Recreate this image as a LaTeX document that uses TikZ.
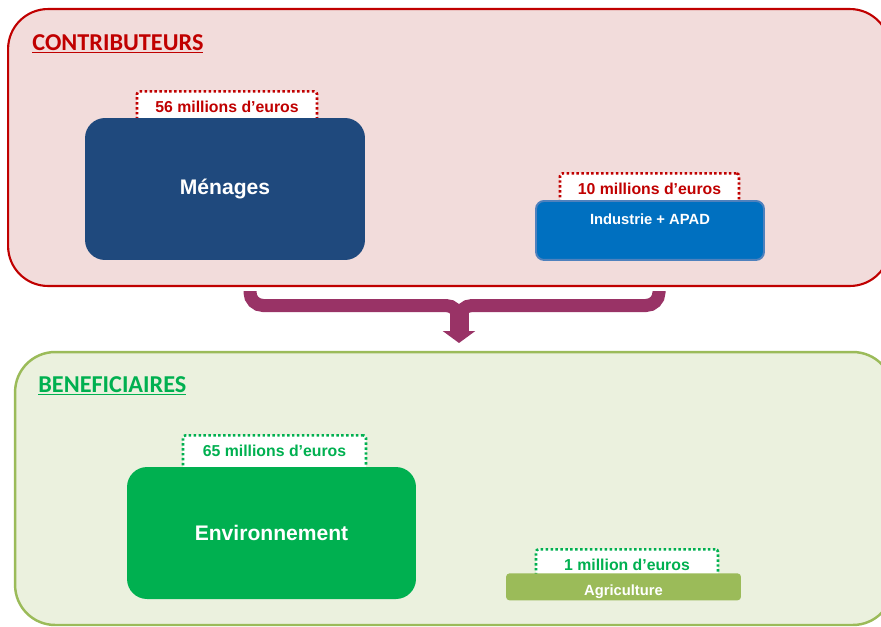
\documentclass[tikz,border=0pt]{standalone}
\usepackage{fontspec}
\setmainfont{Liberation Sans}
\newfontfamily\HeadFont{Carlito}
\usetikzlibrary{arrows.meta}
\definecolor{ContribRed}{HTML}{C00000}
\definecolor{ContribFill}{HTML}{F2DCDB}
\definecolor{MenagesBlue}{HTML}{1F497D}
\definecolor{IndusBlue}{HTML}{0070C0}
\definecolor{IndusEdge}{HTML}{4F81BD}
\definecolor{BenefEdge}{HTML}{9BBB59}
\definecolor{BenefFill}{HTML}{EBF1DE}
\definecolor{EnvGreen}{HTML}{00B050}
\definecolor{AgriGreen}{HTML}{9BBB59}
\definecolor{FlowPurple}{HTML}{993366}
\newcommand{\FluxHead}{\fontsize{13.8}{15}\selectfont\HeadFont\bfseries}
\newcommand{\FluxBox}{\fontsize{12}{14}\selectfont\bfseries}
\newcommand{\FluxTag}{\fontsize{9}{10.5}\selectfont\bfseries}
\newcommand{\FluxSmall}{\fontsize{8.4}{10}\selectfont\bfseries}
\newcommand{\FluxUnder}[1]{\underline{#1}}
\tikzset{
  groupbox/.style={
    rectangle,
    rounded corners=0.8cm,
    line width=1.2pt
  },
  headlabel/.style={
    anchor=west,
    inner sep=0pt,
    font=\FluxHead
  },
  amountbox/.style={
    rectangle,
    anchor=north,
    rounded corners=1.5pt,
    fill=white,
    line width=1.5pt,
    dash pattern=on 1.4pt off 1.4pt,
    inner sep=0pt,
    text height=0.43cm,
    text depth=0.35cm,
    font=\FluxTag
  },
  bigbox/.style={
    rectangle,
    rounded corners=0.4cm,
    text=white,
    font=\FluxBox
  },
  smallbox/.style={
    rectangle,
    text=white,
    inner sep=0pt,
    font=\FluxSmall
  },
  bracearm/.style={
    draw=FlowPurple,
    line width=0.26cm,
    rounded corners=0.26cm
  },
  bracestem/.style={
    draw=FlowPurple,
    line width=0.38cm,
    -{Triangle[width=0.64cm,length=0.24cm]}
  }
}

\begin{document}
\begin{tikzpicture}[x=0.02cm,y=-0.02cm]
\useasboundingbox (0,0) rectangle (881,626);

% contributeurs
\node[groupbox, draw=ContribRed, fill=ContribFill, minimum width=17.64cm, minimum height=5.54cm] (contrib) at (449,147.5) {};
\node[headlabel, text=ContribRed] (contribhead) at (32,44) {\FluxUnder{CONTRIBUTEURS}};

\node[amountbox, draw=ContribRed, text=ContribRed, minimum width=3.60cm] (tagmenages) at (227,90) {56 millions d’euros};
\node[bigbox, fill=MenagesBlue, minimum width=5.60cm, minimum height=2.84cm] (menages) at (225,189) {Ménages};

\node[amountbox, draw=ContribRed, text=ContribRed, minimum width=3.58cm] (tagindus) at (649.5,172) {10 millions d’euros};
\node[smallbox, fill=IndusBlue, draw=IndusEdge, line width=1.1pt, rounded corners=0.16cm,
  minimum width=4.56cm, text height=0.47cm, text depth=0.71cm] (indus) at (650,200) [anchor=north] {Industrie + APAD};

% beneficiaires
\node[groupbox, draw=BenefEdge, fill=BenefFill, line width=1.4pt, minimum width=17.56cm, minimum height=5.46cm] (benef) at (454,488.5) {};
\node[headlabel, text=EnvGreen] (benefhead) at (38,386) {\FluxUnder{BENEFICIAIRES}};

\node[amountbox, draw=EnvGreen, text=EnvGreen, minimum width=3.66cm] (tagenv) at (274.5,434) {65 millions d’euros};
\node[bigbox, fill=EnvGreen, minimum width=5.78cm, minimum height=2.64cm] (env) at (271.5,533) {Environnement};

\node[amountbox, draw=EnvGreen, text=EnvGreen, minimum width=3.64cm] (tagagri) at (627,548) {1 million d’euros};
\node[smallbox, fill=AgriGreen, rounded corners=2pt, minimum width=4.70cm, text height=0.44cm, text depth=0.10cm] (agri) at (623.5,573) [anchor=north] {Agriculture};

% flux
\coordinate (armL) at (250,291);
\coordinate (armR) at (659,291);
\coordinate (fork) at (459,305.5);
\coordinate (tip) at (459,343);
\draw[bracearm] (armL) |- (fork) -- ++(0,20);
\draw[bracearm] (armR) |- (fork) -- ++(0,20);
\draw[bracestem] ([yshift=-0.12cm]fork) -- (tip);

\end{tikzpicture}
\end{document}
